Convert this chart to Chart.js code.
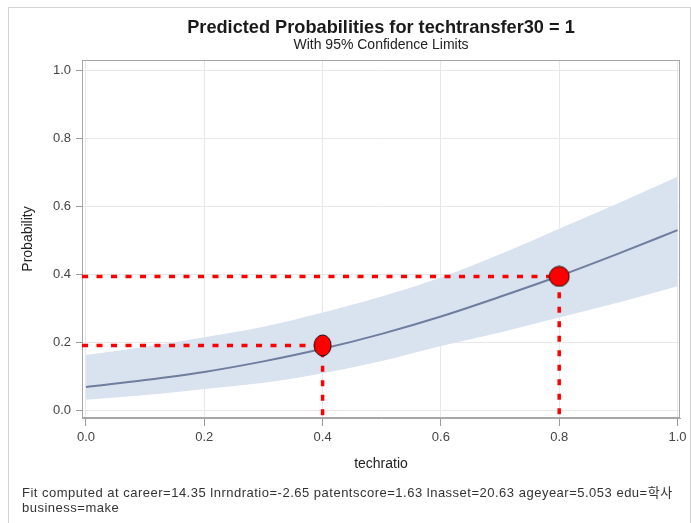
<!DOCTYPE html>
<html>
<head>
<meta charset="utf-8">
<script src="https://cdn.jsdelivr.net/npm/chart.js@4/dist/chart.umd.min.js"></script>
<style>
html,body{margin:0;padding:0;background:#fff;overflow:hidden;}
#wrap{position:relative;width:691px;height:523px;overflow:hidden;}
#outer{position:absolute;left:8px;top:7px;width:683px;height:540px;border:1px solid #d2d2d2;box-sizing:border-box;}
#c{position:absolute;left:0;top:0;}
#foot{position:absolute;left:22px;top:485px;font:13px "Liberation Sans","Noto Sans CJK KR",sans-serif;letter-spacing:0.5px;color:#333;line-height:15px;white-space:nowrap;}
</style>
</head>
<body>
<div id="wrap">
  <div id="outer"></div>
  <canvas id="c" width="691" height="523"></canvas>
  <div id="foot">Fit computed at career=14.35 lnrndratio=-2.65 patentscore=1.63 lnasset=20.63 ageyear=5.053 edu=학사<br>business=make</div>
</div>
<script>
// ---- data ----
const techratio   = [0.0, 0.1, 0.2, 0.3, 0.4, 0.5, 0.6, 0.7, 0.8, 0.9, 1.0];
const predicted   = [0.070, 0.090, 0.114, 0.145, 0.182, 0.226, 0.277, 0.335, 0.396, 0.462, 0.531];
const upperCL     = [0.164, 0.188, 0.216, 0.247, 0.289, 0.336, 0.392, 0.460, 0.535, 0.610, 0.688];
const lowerCL     = [0.032, 0.046, 0.064, 0.082, 0.110, 0.146, 0.190, 0.230, 0.274, 0.318, 0.366];
const markerX     = [0.4, 0.8];
const markerY     = [0.192, 0.395];
const xTickValues = [0.0, 0.2, 0.4, 0.6, 0.8, 1.0];
const yTickValues = [0.0, 0.2, 0.4, 0.6, 0.8, 1.0];

const X_MIN = -0.0067, X_MAX = 1.0042;
const Y_MIN = -0.0215, Y_MAX = 1.0315;

const FONT = '"Liberation Sans","Noto Sans CJK KR",sans-serif';

function ellipseMarker(w, h) {
  const c = document.createElement('canvas');
  c.width = w + 2; c.height = h + 2;
  const g = c.getContext('2d');
  g.beginPath();
  g.ellipse((w + 2) / 2, (h + 2) / 2, w / 2, h / 2, 0, 0, Math.PI * 2);
  g.fillStyle = '#ff0000';
  g.fill();
  g.lineWidth = 1;
  g.strokeStyle = '#111';
  g.stroke();
  return c;
}
const markerStyles = [ellipseMarker(17, 21), ellipseMarker(20, 20)];

const pts = (xs, ys) => xs.map((x, i) => ({x: x, y: ys[i]}));

const dashSets = markerX.map((mx, i) => ({
  label: 'guide' + i,
  data: [{x: X_MIN, y: markerY[i]}, {x: mx, y: markerY[i]}, {x: mx, y: Y_MIN}],
  borderColor: '#ff0000',
  borderWidth: 3.5,
  borderDash: [6, 8.5],
  borderCapStyle: 'butt',
  pointRadius: 0,
  tension: 0,
  fill: false,
  order: 1
}));

const framePlugin = {
  id: 'frame',
  beforeDatasetsDraw(chart) {
    const a = chart.chartArea, ctx = chart.ctx;
    ctx.save();
    ctx.strokeStyle = '#a6a6a6';
    ctx.lineWidth = 1;
    ctx.strokeRect(Math.round(a.left) + 0.5, Math.round(a.top) + 0.5,
                   Math.round(a.right - a.left) - 1, Math.round(a.bottom - a.top) - 1);
    ctx.restore();
  }
};

new Chart(document.getElementById('c'), {
  type: 'line',
  data: {
    datasets: [
      {
        label: 'points',
        data: pts(markerX, markerY),
        showLine: false,
        pointStyle: markerStyles,
        pointRadius: 10,
        order: 0
      },
      ...dashSets,
      {
        label: 'Predicted',
        data: pts(techratio, predicted),
        borderColor: '#6f7d9e',
        borderWidth: 2,
        pointRadius: 0,
        cubicInterpolationMode: 'monotone',
        fill: false,
        order: 2
      },
      {
        label: 'Upper',
        data: pts(techratio, upperCL),
        borderWidth: 0,
        borderColor: 'rgba(0,0,0,0)',
        backgroundColor: '#d9e2ef',
        pointRadius: 0,
        cubicInterpolationMode: 'monotone',
        fill: '+1',
        order: 3
      },
      {
        label: 'Lower',
        data: pts(techratio, lowerCL),
        borderWidth: 0,
        borderColor: 'rgba(0,0,0,0)',
        pointRadius: 0,
        cubicInterpolationMode: 'monotone',
        fill: false,
        order: 4
      }
    ]
  },
  options: {
    responsive: false,
    animation: false,
    events: [],
    layout: { padding: { left: 0, right: 9.5, top: 0, bottom: 45 } },
    plugins: {
      legend: { display: false },
      tooltip: { enabled: false },
      title: {
        display: true,
        text: 'Predicted Probabilities for techtransfer30 = 1',
        fullSize: false,
        color: '#1a1a1a',
        font: { family: FONT, size: 18.2, weight: 'bold', lineHeight: 1.0 },
        padding: { top: 18.5, bottom: 0 }
      },
      subtitle: {
        display: true,
        text: 'With 95% Confidence Limits',
        fullSize: false,
        color: '#222',
        font: { family: FONT, size: 14, lineHeight: 1.0 },
        padding: { top: 1.5, bottom: 7.8 }
      }
    },
    scales: {
      x: {
        type: 'linear',
        min: X_MIN,
        max: X_MAX,
        afterBuildTicks(axis) { axis.ticks = xTickValues.map(v => ({value: v})); },
        afterFit(scale) { scale.height = 60; },
        ticks: {
          color: '#444',
          font: { family: FONT, size: 13 },
          padding: 4,
          maxRotation: 0,
          callback: v => Number(v).toFixed(1)
        },
        grid: { color: '#e8e8e8', tickColor: '#9a9a9a', tickLength: 8, drawTicks: true },
        border: { color: '#a6a6a6' },
        title: {
          display: true,
          text: 'techratio',
          color: '#222',
          font: { family: FONT, size: 14 },
          padding: { top: 0, bottom: 5.6 }
        }
      },
      y: {
        type: 'linear',
        min: Y_MIN,
        max: Y_MAX,
        afterBuildTicks(axis) { axis.ticks = yTickValues.map(v => ({value: v})); },
        afterFit(scale) { scale.width = 82; },
        ticks: {
          color: '#444',
          font: { family: FONT, size: 13 },
          padding: 5,
          callback: v => Number(v).toFixed(1)
        },
        grid: { color: '#e8e8e8', tickColor: '#9a9a9a', tickLength: 6, drawTicks: true },
        border: { color: '#a6a6a6' },
        title: {
          display: true,
          text: 'Probability',
          color: '#222',
          font: { family: FONT, size: 14 },
          padding: { top: 19.6, bottom: 0 }
        }
      }
    }
  },
  plugins: [framePlugin]
});
</script>
</body>
</html>
